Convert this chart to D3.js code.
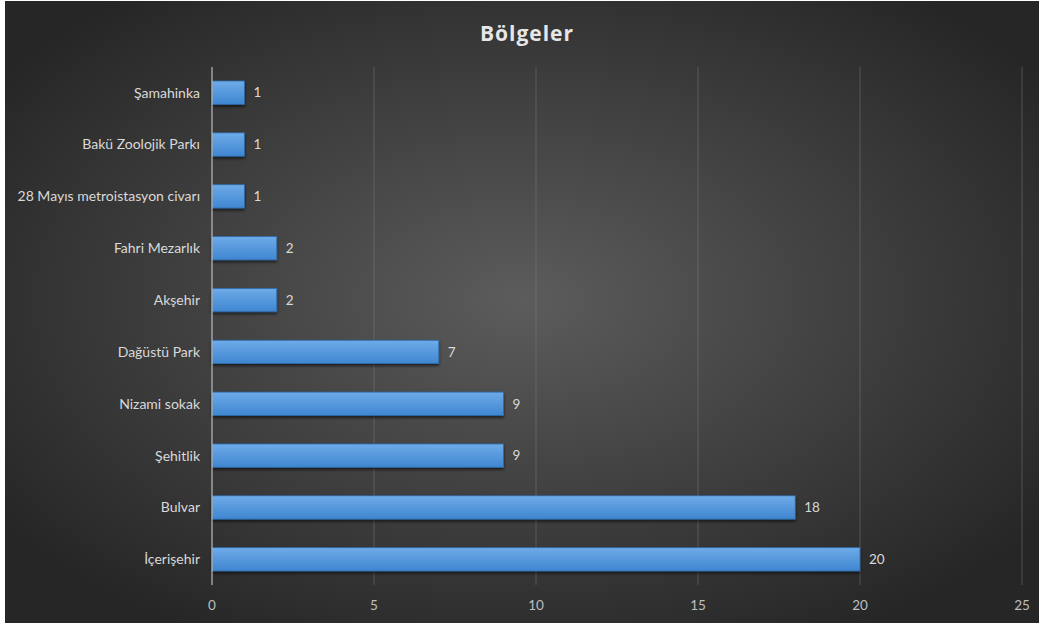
<!DOCTYPE html>
<html lang="tr">
<head>
<meta charset="UTF-8">
<title>Bölgeler</title>
<script src="https://cdn.jsdelivr.net/npm/d3@7"></script>
<style>
    body { margin: 0; background: #fff; }
    .cat-label { font-family: Lato, "Open Sans", sans-serif; font-size: 14px; fill: #d9d9d9; text-anchor: end; }
    .val-label { font-family: Lato, "Open Sans", sans-serif; font-size: 13.5px; fill: #d9d9d9; }
    .tick-label { font-family: Lato, "Open Sans", sans-serif; font-size: 13.5px; fill: #bfbfbf; text-anchor: middle; }
    .title { font-family: "Open Sans", Lato, sans-serif; font-size: 21px; font-weight: bold; fill: #e6e6e6; text-anchor: middle; letter-spacing: 1px; }
</style>
</head>
<body>
<div id="chart"></div>
<script>
    const categories = ["Şamahinka", "Bakü Zoolojik Parkı", "28 Mayıs metroistasyon civarı", "Fahri Mezarlık",
        "Akşehir", "Dağüstü Park", "Nizami sokak", "Şehitlik", "Bulvar", "İçerişehir"];
    const values = [1, 1, 1, 2, 2, 7, 9, 9, 18, 20];
    const xTicks = [0, 5, 10, 15, 20, 25];

    const width = 1039;
    const height = 628;

    const svg = d3.select("#chart").append("svg")
        .attr("width", width)
        .attr("height", height);

    const defs = svg.append("defs");

    // fondo
    const bg = defs.append("radialGradient")
        .attr("id", "bg")
        .attr("cx", "50%").attr("cy", "48%").attr("r", "62%");
    bg.append("stop").attr("offset", "0%").attr("stop-color", "#5c5c5c");
    bg.append("stop").attr("offset", "100%").attr("stop-color", "#262626");

    const barGrad = defs.append("linearGradient")
        .attr("id", "barGrad")
        .attr("x1", 0).attr("y1", 0).attr("x2", 0).attr("y2", 1);
    barGrad.append("stop").attr("offset", "0%").attr("stop-color", "#6eabe8");
    barGrad.append("stop").attr("offset", "100%").attr("stop-color", "#3f86d1");

    const shadow = defs.append("filter")
        .attr("id", "shadow")
        .attr("x", "-5%").attr("y", "-30%").attr("width", "110%").attr("height", "180%");
    shadow.append("feDropShadow")
        .attr("dx", 0).attr("dy", 2)
        .attr("stdDeviation", 1.5)
        .attr("flood-color", "#000")
        .attr("flood-opacity", 0.6);

    svg.append("rect")
        .attr("x", 5).attr("y", 1)
        .attr("width", width - 5).attr("height", 622)
        .attr("fill", "url(#bg)");

    const margin = { top: 67, right: 17, bottom: 43, left: 212 };

    const x = d3.scaleLinear()
        .domain([0, 25])
        .range([margin.left, width - margin.right]);

    const y = d3.scaleBand()
        .domain(categories)
        .range([margin.top, height - margin.bottom])
        .paddingInner(0.55)
        .paddingOuter(0.27);

    // lineas de la grilla
    svg.append("g").selectAll("line")
        .data(xTicks.filter(t => t > 0))
        .enter().append("line")
        .attr("x1", d => x(d)).attr("x2", d => x(d))
        .attr("y1", margin.top).attr("y2", height - margin.bottom)
        .attr("stroke", "#808080")
        .attr("stroke-opacity", 0.45)
        .attr("stroke-width", 1);

    svg.append("g").selectAll("text")
        .data(xTicks)
        .enter().append("text")
        .attr("class", "tick-label")
        .attr("x", d => x(d))
        .attr("y", height - margin.bottom + 25)
        .text(d => d);

    // barras
    svg.append("g").selectAll("rect")
        .data(values)
        .enter().append("rect")
        .attr("x", x(0))
        .attr("y", (d, i) => y(categories[i]))
        .attr("width", d => x(d) - x(0))
        .attr("height", y.bandwidth())
        .attr("fill", "url(#barGrad)")
        .attr("stroke", "#2f6aa8")
        .attr("stroke-width", 0.8)
        .attr("filter", "url(#shadow)");

    // eje vertical
    svg.append("line")
        .attr("x1", x(0)).attr("x2", x(0))
        .attr("y1", margin.top).attr("y2", height - margin.bottom)
        .attr("stroke", "#bdbdbd")
        .attr("stroke-width", 1.2);

    svg.append("g").selectAll("text")
        .data(categories)
        .enter().append("text")
        .attr("class", "cat-label")
        .attr("x", x(0) - 12)
        .attr("y", d => y(d) + y.bandwidth() / 2)
        .attr("dy", "0.35em")
        .text(d => d);

    svg.append("g").selectAll("text")
        .data(values)
        .enter().append("text")
        .attr("class", "val-label")
        .attr("x", d => x(d) + 9)
        .attr("y", (d, i) => y(categories[i]) + y.bandwidth() / 2)
        .attr("dy", "0.35em")
        .text(d => d);

    svg.append("text")
        .attr("class", "title")
        .attr("x", 527)
        .attr("y", 41)
        .text("Bölgeler");
</script>
</body>
</html>
